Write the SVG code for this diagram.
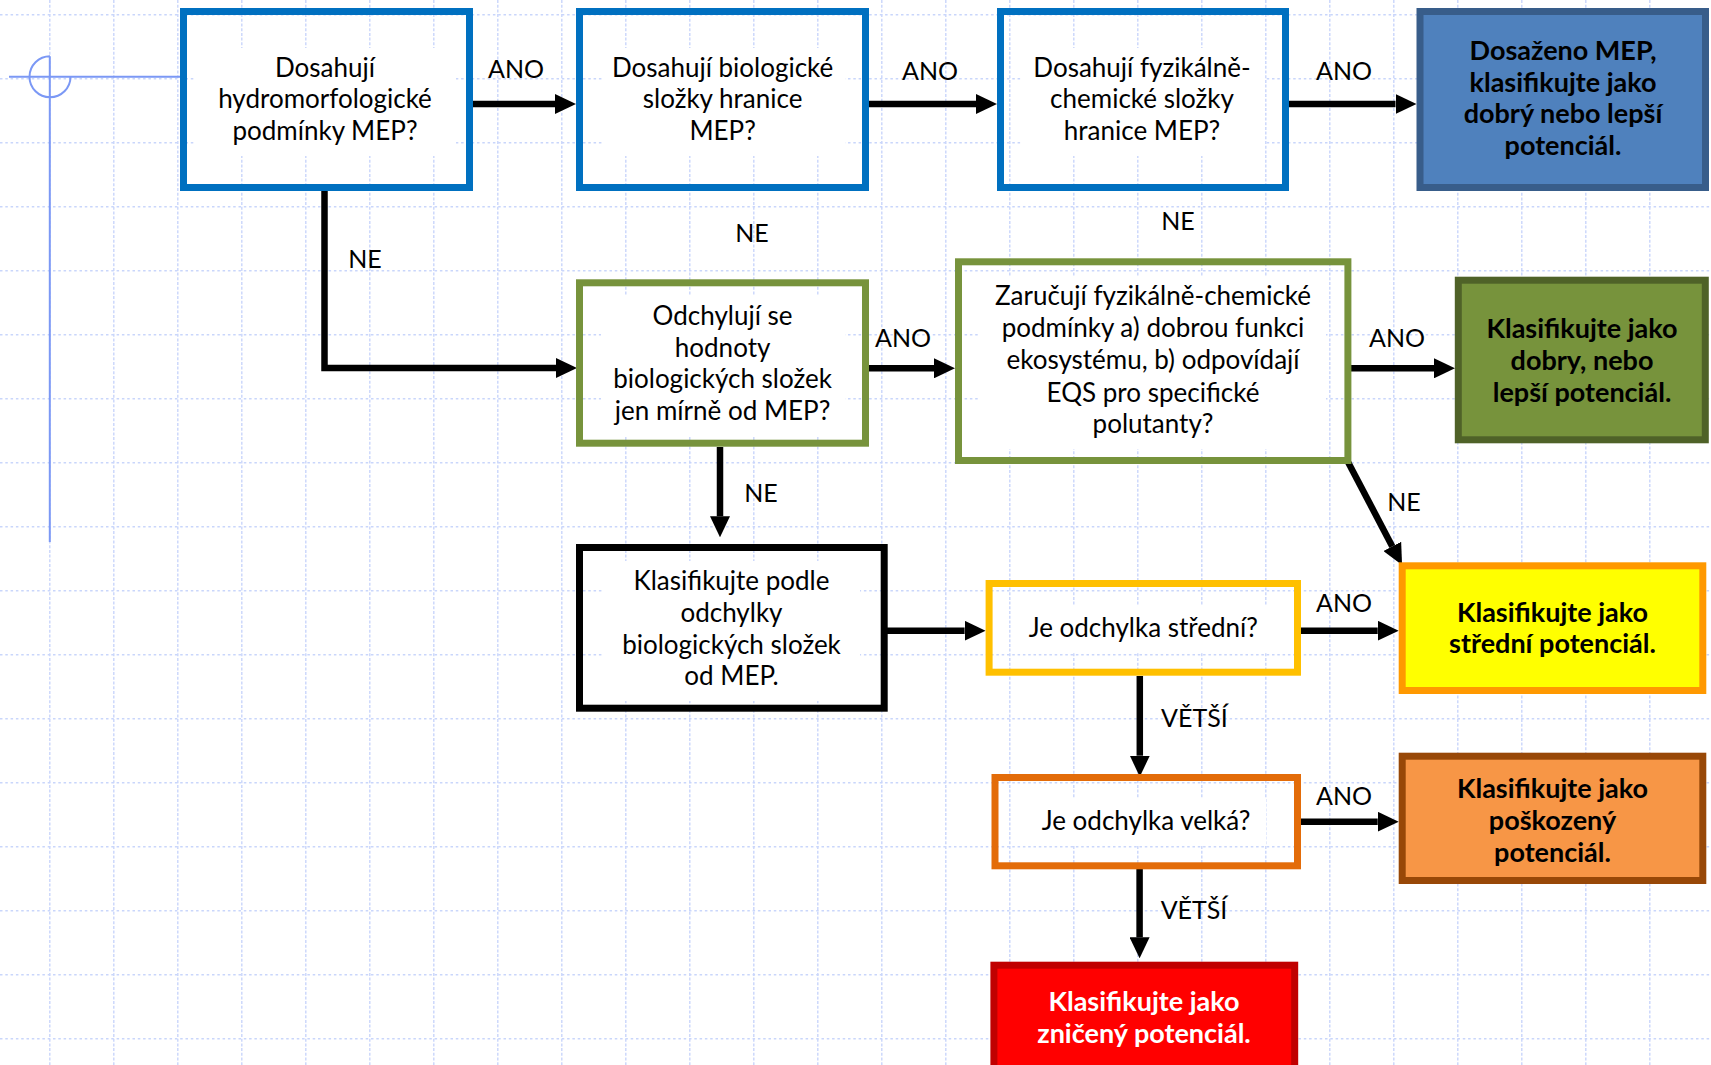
<svg xmlns="http://www.w3.org/2000/svg" width="1711" height="1065" viewBox="0 0 1711 1065">
<defs>
<style>
.gv{stroke:#c9d6fb;stroke-width:1.4;stroke-dasharray:3 1.7;fill:none}
.gh{stroke:#c9d6fb;stroke-width:1.4;stroke-dasharray:2.5 2.8;fill:none}
.frame{fill:#ffffff;stroke:none}
.t{font-family:Lato,"Liberation Sans",sans-serif;font-size:26px;text-anchor:middle;fill:#000}
.l{font-size:25px}
.b{font-weight:bold;font-size:27px}
.w{fill:#ffffff}
.box{stroke-width:7;fill:none}
.fbox{stroke-width:7}
.conn{stroke:#000;stroke-width:6.5;fill:none}
.guide{stroke:#7b98f5;stroke-width:2;fill:none}
</style>
<marker id="ah" viewBox="0 0 21 20" markerUnits="userSpaceOnUse" markerWidth="21" markerHeight="20" refX="0" refY="10" orient="auto">
<path d="M0,0 L21,10 L0,20 Z" fill="#000"/>
</marker>
</defs>
<rect x="0" y="0" width="1711" height="1065" fill="#ffffff"/>
<g id="grid">
<path class="gv" d="M49.8,0V1065M113.8,0V1065M177.8,0V1065M241.8,0V1065M305.8,0V1065M369.8,0V1065M433.8,0V1065M497.8,0V1065M561.8,0V1065M625.8,0V1065M689.8,0V1065M753.8,0V1065M817.8,0V1065M881.8,0V1065M945.8,0V1065M1009.8,0V1065M1073.8,0V1065M1137.8,0V1065M1201.8,0V1065M1265.8,0V1065M1329.8,0V1065M1393.8,0V1065M1457.8,0V1065M1521.8,0V1065M1585.8,0V1065M1649.8,0V1065"/>
<path class="gh" d="M0,14.7H1711M0,78.7H1711M0,142.7H1711M0,206.7H1711M0,270.7H1711M0,334.7H1711M0,398.7H1711M0,462.7H1711M0,526.7H1711M0,590.7H1711M0,654.7H1711M0,718.7H1711M0,782.7H1711M0,846.7H1711M0,910.7H1711M0,974.7H1711M0,1038.7H1711"/>
</g>
<g id="guides">
<path class="guide" d="M9,76.7H184M49.8,56.2V542M50,56.2A20.5,20.5 0 1 0 70.5,76.7"/>
</g>
<g id="connectors">
<path class="conn" d="M473,104H555" marker-end="url(#ah)"/>
<path class="conn" d="M869,104H976" marker-end="url(#ah)"/>
<path class="conn" d="M1289,104H1395.5" marker-end="url(#ah)"/>
<path class="conn" d="M324.5,188V368H556" marker-end="url(#ah)"/>
<path class="conn" d="M869,368.3H934" marker-end="url(#ah)"/>
<path class="conn" d="M1351,368.3H1434" marker-end="url(#ah)"/>
<path class="conn" d="M1348,462L1392.3,546.4" marker-end="url(#ah)"/>
<path class="conn" d="M720,447V516.3" marker-end="url(#ah)"/>
<path class="conn" d="M887,630.7H964.6" marker-end="url(#ah)"/>
<path class="conn" d="M1301,630.7H1377.7" marker-end="url(#ah)"/>
<path class="conn" d="M1139.8,676V755.7" marker-end="url(#ah)"/>
<path class="conn" d="M1301,821.7H1377.7" marker-end="url(#ah)"/>
<path class="conn" d="M1139.6,869V937.3" marker-end="url(#ah)"/>
<text class="t l" x="516" y="77.7">ANO</text>
<text class="t l" x="930" y="80">ANO</text>
<text class="t l" x="1344" y="80">ANO</text>
<text class="t l" x="365" y="268">NE</text>
<text class="t l" x="752" y="241.7">NE</text>
<text class="t l" x="1178" y="230">NE</text>
<text class="t l" x="903" y="346.7">ANO</text>
<text class="t l" x="1397" y="346.7">ANO</text>
<text class="t l" x="1404" y="510.7">NE</text>
<text class="t l" x="761" y="501.7">NE</text>
<text class="t l" x="1344" y="611.7">ANO</text>
<text class="t l" x="1194.4" y="727.3">VĚTŠÍ</text>
<text class="t l" x="1344" y="805">ANO</text>
<text class="t l" x="1194" y="919.3">VĚTŠÍ</text>
</g>
<g id="n1">
<rect class="frame" x="194" y="48" width="262" height="108"/>
<rect class="box" x="183.5" y="11.5" width="286" height="176" stroke="#0070c0"/>
<text class="t" x="325"><tspan x="325" y="76.7">Dosahují</tspan><tspan x="325" y="108.3">hydromorfologické</tspan><tspan x="325" y="140">podmínky MEP?</tspan></text>
</g>
<g id="n2">
<rect class="frame" x="602" y="48" width="243" height="108"/>
<rect class="box" x="579.5" y="11.5" width="286" height="176" stroke="#0070c0"/>
<text class="t" x="722.6"><tspan x="722.6" y="76.7">Dosahují biologické</tspan><tspan x="722.6" y="108.3">složky hranice</tspan><tspan x="722.6" y="140">MEP?</tspan></text>
</g>
<g id="n3">
<rect class="frame" x="1022" y="48" width="242" height="108"/>
<rect class="box" x="1000.5" y="11.5" width="285" height="176" stroke="#0070c0"/>
<text class="t" x="1142"><tspan x="1142" y="76.7">Dosahují fyzikálně-</tspan><tspan x="1142" y="108.3">chemické složky</tspan><tspan x="1142" y="140">hranice MEP?</tspan></text>
</g>
<g id="n4">
<rect class="fbox" x="1420" y="11.5" width="285.5" height="176" fill="#4f81bd" stroke="#385d8a"/>
<text class="t b" x="1563"><tspan x="1563" y="60">Dosaženo MEP,</tspan><tspan x="1563" y="91.7">klasifikujte jako</tspan><tspan x="1563" y="123.3">dobrý nebo lepší</tspan><tspan x="1563" y="155">potenciál.</tspan></text>
</g>
<g id="n5">
<rect class="frame" x="601" y="296" width="244" height="140"/>
<rect class="box" x="579.5" y="282.8" width="286" height="160.4" stroke="#77933c"/>
<text class="t" x="722.6"><tspan x="722.6" y="325">Odchylují se</tspan><tspan x="722.6" y="356.7">hodnoty</tspan><tspan x="722.6" y="388.3">biologických složek</tspan><tspan x="722.6" y="420">jen mírně od MEP?</tspan></text>
</g>
<g id="n6">
<rect class="frame" x="980" y="276" width="346" height="173"/>
<rect class="box" x="958.5" y="261.8" width="389.4" height="198.7" stroke="#77933c"/>
<text class="t" x="1153"><tspan x="1153" y="305">Zaručují fyzikálně-chemické</tspan><tspan x="1153" y="337.3">podmínky a) dobrou funkci</tspan><tspan x="1153" y="369.3">ekosystému, b) odpovídají</tspan><tspan x="1153" y="401.7">EQS pro specifické</tspan><tspan x="1153" y="433.3">polutanty?</tspan></text>
</g>
<g id="n7">
<rect class="fbox" x="1458.3" y="280.2" width="247" height="159.6" fill="#77933c" stroke="#4f6228"/>
<text class="t b" x="1582"><tspan x="1582" y="338.3">Klasifikujte jako</tspan><tspan x="1582" y="370">dobry, nebo</tspan><tspan x="1582" y="401.7">lepší potenciál.</tspan></text>
</g>
<g id="n9">
<rect class="frame" x="604" y="561" width="256" height="140"/>
<rect class="box" x="579.5" y="547.5" width="304.7" height="160.7" stroke="#000000"/>
<text class="t" x="731.5"><tspan x="731.5" y="590">Klasifikujte podle</tspan><tspan x="731.5" y="621.8">odchylky</tspan><tspan x="731.5" y="653.6">biologických složek</tspan><tspan x="731.5" y="685.4">od MEP.</tspan></text>
</g>
<g id="n10">
<rect class="frame" x="1012" y="605" width="260" height="48"/>
<rect class="box" x="989.1" y="583.5" width="308.4" height="88.7" stroke="#ffc000"/>
<text class="t" x="1143.3" y="637.3">Je odchylka střední?</text>
</g>
<g id="n11">
<rect class="fbox" x="1402.2" y="565.8" width="300.6" height="124.7" fill="#ffff00" stroke="#ff9900"/>
<text class="t b" x="1552.5"><tspan x="1552.5" y="621.7">Klasifikujte jako</tspan><tspan x="1552.5" y="653.3">střední potenciál.</tspan></text>
</g>
<g id="n12">
<rect class="frame" x="1025" y="798" width="241" height="48"/>
<rect class="box" x="995" y="777.5" width="302.5" height="88.3" stroke="#e36c09"/>
<text class="t" x="1146" y="830">Je odchylka velká?</text>
</g>
<g id="n13">
<rect class="fbox" x="1402.2" y="756.2" width="300.6" height="124.3" fill="#f79646" stroke="#984807"/>
<text class="t b" x="1552.5"><tspan x="1552.5" y="798.3">Klasifikujte jako</tspan><tspan x="1552.5" y="830">poškozený</tspan><tspan x="1552.5" y="861.7">potenciál.</tspan></text>
</g>
<g id="n14">
<rect class="fbox" x="993.9" y="965.2" width="300.8" height="130" fill="#ff0000" stroke="#c00000"/>
<text class="t b w" x="1144"><tspan x="1144" y="1011">Klasifikujte jako</tspan><tspan x="1144" y="1042.7">zničený potenciál.</tspan></text>
</g>
</svg>
